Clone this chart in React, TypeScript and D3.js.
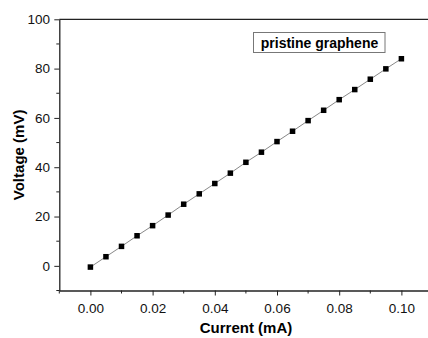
import { useEffect, useRef } from "react";
import * as d3 from "d3";

const currents = [
  0, 0.005, 0.01, 0.015, 0.02, 0.025, 0.03, 0.035, 0.04, 0.045, 0.05, 0.055,
  0.06, 0.065, 0.07, 0.075, 0.08, 0.085, 0.09, 0.095, 0.1,
];
const voltages = [
  -0.5, 3.7, 7.9, 12.2, 16.3, 20.6, 25.0, 29.2, 33.4, 37.6, 42.0, 46.1, 50.4,
  54.6, 58.9, 63.1, 67.4, 71.5, 75.7, 79.9, 84.0,
];
const xTicks = [0, 0.02, 0.04, 0.06, 0.08, 0.1];
const xMinor = [-0.01, 0.01, 0.03, 0.05, 0.07, 0.09];
const yTicks = [0, 20, 40, 60, 80, 100];
const yMinor = [-10, 10, 30, 50, 70, 90];
const legendLabel = "pristine graphene";

const App = () => {
  const ref = useRef<SVGSVGElement>(null);

  useEffect(() => {
    const width = 428;
    const height = 338;
    const svg = d3.select(ref.current).attr("width", width).attr("height", height);
    svg.selectAll("*").remove();

    const font = "'Liberation Sans', Arial, sans-serif";

    // plot runs past the right edge, like the cropped original
    const x = d3.scaleLinear().domain([-0.01, 0.11]).range([59.3, 432.5]);
    const y = d3.scaleLinear().domain([-10, 100]).range([290.5, 19.3]);

    const data = currents.map((c, i) => ({ c, v: voltages[i] }));

    // frame top line
    svg
      .append("line")
      .attr("x1", x(-0.01))
      .attr("x2", width)
      .attr("y1", y(100))
      .attr("y2", y(100))
      .attr("stroke", "#222")
      .attr("stroke-width", 1.3);

    // x axis
    const gx = svg
      .append("g")
      .attr("transform", `translate(0,${y(-10)})`)
      .call(
        d3
          .axisBottom(x)
          .tickValues(xTicks)
          .tickSize(5)
          .tickSizeOuter(0)
          .tickFormat(d3.format(".2f"))
      );
    gx.append("g")
      .selectAll("line")
      .data(xMinor)
      .join("line")
      .attr("x1", (d) => x(d))
      .attr("x2", (d) => x(d))
      .attr("y1", 0)
      .attr("y2", 3)
      .attr("stroke", "#222");

    // y axis
    const gy = svg
      .append("g")
      .attr("transform", `translate(${x(-0.01)},0)`)
      .call(d3.axisLeft(y).tickValues(yTicks).tickSize(5).tickSizeOuter(0));
    gy.append("g")
      .selectAll("line")
      .data(yMinor)
      .join("line")
      .attr("x1", 0)
      .attr("x2", -3)
      .attr("y1", (d) => y(d))
      .attr("y2", (d) => y(d))
      .attr("stroke", "#222");

    [gx, gy].forEach((g) => {
      g.select(".domain").attr("stroke", "#222").attr("stroke-width", 1.3);
      g.selectAll(".tick line").attr("stroke", "#222");
      g.selectAll(".tick text")
        .attr("font-family", font)
        .attr("font-size", 13.5)
        .attr("fill", "#111");
    });
    gx.selectAll(".tick text").attr("dy", "1.05em");
    gy.selectAll(".tick text").attr("dx", "-0.1em");

    // line + markers
    svg
      .append("path")
      .datum(data)
      .attr("fill", "none")
      .attr("stroke", "#888")
      .attr("stroke-width", 1)
      .attr(
        "d",
        d3
          .line<{ c: number; v: number }>()
          .x((d) => x(d.c))
          .y((d) => y(d.v))
      );

    const s = 5.5;
    svg
      .append("g")
      .selectAll("rect")
      .data(data)
      .join("rect")
      .attr("x", (d) => x(d.c) - s / 2)
      .attr("y", (d) => y(d.v) - s / 2)
      .attr("width", s)
      .attr("height", s)
      .attr("fill", "#000");

    // legend box
    svg
      .append("rect")
      .attr("x", 253.5)
      .attr("y", 32.5)
      .attr("width", 131.5)
      .attr("height", 20)
      .attr("fill", "#fff")
      .attr("stroke", "#777")
      .attr("stroke-width", 1);
    svg
      .append("text")
      .attr("x", 319.5)
      .attr("y", 47.8)
      .attr("text-anchor", "middle")
      .attr("font-family", font)
      .attr("font-weight", "bold")
      .attr("font-size", 14)
      .text(legendLabel);

    // axis titles
    svg
      .append("text")
      .attr("x", 246)
      .attr("y", 333)
      .attr("text-anchor", "middle")
      .attr("font-family", font)
      .attr("font-weight", "bold")
      .attr("font-size", 15)
      .text("Current (mA)");

    svg
      .append("text")
      .attr("transform", `translate(24,${y(45)}) rotate(-90)`)
      .attr("text-anchor", "middle")
      .attr("font-family", font)
      .attr("font-weight", "bold")
      .attr("font-size", 15)
      .text("Voltage (mV)");
  }, []);

  return (
    <svg
      ref={ref}
      style={{ position: "absolute", left: 0, top: 0, display: "block" }}
    />
  );
};

export default App;
